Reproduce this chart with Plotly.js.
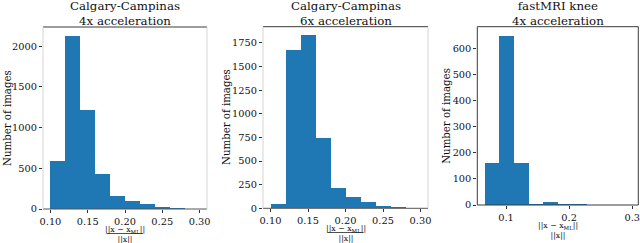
<!DOCTYPE html>
<html><head><meta charset="utf-8">
<script src="https://cdn.plot.ly/plotly-3.0.1.min.js"></script>
<style>html,body{margin:0;padding:0;background:#fff}</style>
</head><body><div id="chart" style="width:640px;height:243px"></div>
<script>
// ---- data ----
const ccBinStarts = [0.10, 0.12, 0.14, 0.16, 0.18, 0.20, 0.22, 0.24, 0.26, 0.28];
const ccBinWidth = 0.02;
const cc4xCounts = [595, 2130, 1220, 425, 158, 95, 60, 28, 12, 3];
const cc6xCounts = [42, 1670, 1828, 742, 212, 117, 64, 21, 10, 2];
const kneeBinStarts = [0.066, 0.0892, 0.1124, 0.1356, 0.1588, 0.182, 0.2052, 0.2284, 0.2516, 0.2748];
const kneeBinWidth = 0.0232;
const knee4xCounts = [162, 648, 160, 4, 10, 4, 2, 0, 0, 1];
const titleLine1 = ["Calgary-Campinas", "Calgary-Campinas", "fastMRI knee"];
const titleLine2 = ["4x acceleration", "6x acceleration", "4x acceleration"];
const ccXTicks = [0.10, 0.15, 0.20, 0.25, 0.30];
const kneeXTicks = [0.1, 0.2, 0.3];
const yTicks1 = [0, 500, 1000, 1500, 2000];
const yTicks2 = [0, 250, 500, 750, 1000, 1250, 1500, 1750];
const yTicks3 = [0, 100, 200, 300, 400, 500, 600];
const yLabel = "Number of images";
const xNumer = "||x − x<sub>ML</sub>||";
const xDenom = "||x||";

// ---- layout helpers ----
const W = 640, H = 243;
const FONT = "DejaVu Serif, serif";
const BLUE = "#1f77b4";
const px = v => v / W;
const py = v => 1 - v / H;

const panels = [
  {l: 43, r: 207, t: 27, b: 209, x: ccBinStarts, w: ccBinWidth, y: cc4xCounts,
   xr: [0.09, 0.31], xt: ccXTicks, xf: ".2f", yt: yTicks1, ymax: 2237, dark: false,
   ylx: 7, frac: 234.5, line: 233.5},
  {l: 263, r: 428, t: 26.7, b: 208.3, x: ccBinStarts, w: ccBinWidth, y: cc6xCounts,
   xr: [0.09, 0.31], xt: ccXTicks, xf: ".2f", yt: yTicks2, ymax: 1921, dark: false,
   ylx: 226.5, frac: 233.5, line: 232.5},
  {l: 477.3, r: 638.3, t: 26.7, b: 205, x: kneeBinStarts, w: kneeBinWidth, y: knee4xCounts,
   xr: [0.0544, 0.3096], xt: kneeXTicks, xf: ".1f", yt: yTicks3, ymax: 682, dark: true,
   ylx: 447, frac: 230, line: null}
];

const data = [];
const layout = {
  width: W, height: H,
  margin: {l: 0, r: 0, t: 0, b: 0},
  paper_bgcolor: "#fff", plot_bgcolor: "#fff",
  showlegend: false, bargap: 0,
  font: {family: FONT, color: "#111", size: 10},
  shapes: [], annotations: []
};

panels.forEach((p, i) => {
  const n = i === 0 ? "" : String(i + 1);
  data.push({
    type: "bar", x: p.x, y: p.y, width: p.w, offset: 0,
    marker: {color: BLUE, line: {width: 0}},
    xaxis: "x" + n, yaxis: "y" + n, hoverinfo: "skip"
  });
  const axCommon = {
    showgrid: false, zeroline: false, showline: false,
    ticks: "outside", ticklen: 3, tickwidth: 1, tickcolor: "#333",
    tickfont: {family: FONT, size: 9.8, color: "#111"}
  };
  layout["xaxis" + n] = Object.assign({}, axCommon, {
    domain: [px(p.l), px(p.r)], range: p.xr, anchor: "y" + n,
    tickmode: "array", tickvals: p.xt, tickformat: p.xf,
    ticklabeloverflow: "allow"
  });
  layout["yaxis" + n] = Object.assign({}, axCommon, {
    domain: [py(p.b), py(p.t)], range: [0, p.ymax], anchor: "x" + n,
    tickmode: "array", tickvals: p.yt, ticklabeloverflow: "allow"
  });
  const xd = "x" + n + " domain", yd = "y" + n + " domain";
  const darkC = "#3a3a3a", lightC = "#d4d4d4";
  const seg = (x0, y0, x1, y1, c) => layout.shapes.push({
    type: "line", xref: xd, yref: yd, x0, y0, x1, y1, layer: "above",
    line: {color: c, width: 1}
  });
  seg(0, 1, 1, 1, darkC);                       // top
  seg(0, 0, 1, 0, p.dark ? darkC : "#555");     // bottom
  seg(0, 0, 0, 1, p.dark ? darkC : lightC);     // left
  seg(1, 0, 1, 1, p.dark ? darkC : lightC);     // right

  const cx = px((p.l + p.r) / 2);
  layout.annotations.push(
    {text: titleLine1[i] + "<br>" + titleLine2[i], xref: "paper", yref: "paper",
     x: cx, y: py(p.t - 13), xanchor: "center", yanchor: "middle", showarrow: false,
     font: {family: FONT, size: 11.8, color: "#111"}},
    {text: yLabel, xref: "paper", yref: "paper", x: px(p.ylx), y: py((p.t + p.b) / 2),
     xanchor: "center", yanchor: "middle", textangle: -90, showarrow: false,
     font: {family: FONT, size: 10.2, color: "#111"}},
    {text: xNumer + "<br>" + xDenom, xref: "paper", yref: "paper", x: cx, y: py(p.frac),
     xanchor: "center", yanchor: "middle", showarrow: false,
     font: {family: FONT, size: 7.8, color: "#111"}}
  );
  if (p.line !== null) {
    layout.shapes.push({type: "line", xref: "paper", yref: "paper",
      x0: cx - px(18), x1: cx + px(18), y0: py(p.line), y1: py(p.line),
      line: {color: "#222", width: 0.8}});
  }
});

Plotly.newPlot("chart", data, layout, {staticPlot: true, displayModeBar: false});
</script></body></html>
